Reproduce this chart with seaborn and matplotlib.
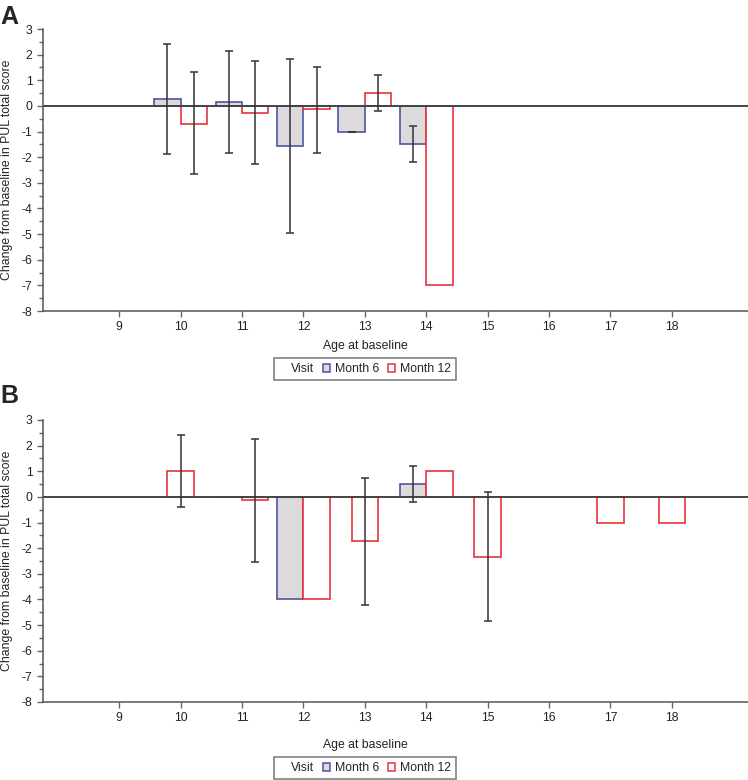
import numpy as np
import matplotlib.pyplot as plt
import seaborn as sns
from matplotlib.patches import Patch

# x axis ticks (age at baseline)
ages = [9, 10, 11, 12, 13, 14, 15, 16, 17, 18]

# Panel A
a_age_m6 = [10, 11, 12, 13, 14]
a_m6 = [0.27, 0.15, -1.58, -1.0, -1.5]
a_m6_lo = [-1.86, -1.83, -4.97, -1.0, -2.2]
a_m6_hi = [2.40, 2.14, 1.84, -1.0, -0.8]
a_age_m12 = [10, 11, 12, 13, 14]
a_m12 = [-0.7, -0.27, -0.14, 0.5, -7.0]
a_m12_lo = [-2.67, -2.27, -1.82, -0.2, np.nan]
a_m12_hi = [1.32, 1.74, 1.53, 1.22, np.nan]

# Panel B
b_age_m6 = [11, 12, 14]
b_m6 = [0.0, -4.0, 0.5]
b_m6_lo = [np.nan, np.nan, -0.21]
b_m6_hi = [np.nan, np.nan, 1.21]
b_age_m12 = [10, 11, 12, 13, 14, 15, 17, 18]
b_m12 = [1.0, -0.14, -4.0, -1.73, 1.0, -2.33, -1.0, -1.0]
b_m12_lo = [-0.40, -2.55, np.nan, -4.23, np.nan, -4.84, np.nan, np.nan]
b_m12_hi = [2.41, 2.27, np.nan, 0.75, np.nan, 0.18, np.nan, np.nan]

GRAY = "#dcdadb"
BLUE = "#4a55a3"
RED = "#e8323a"
DARK = "#333333"
FS = 8.8

sns.set_style("ticks")
plt.rcParams['font.family'] = ['Liberation Sans', 'DejaVu Sans']
plt.rcParams['axes.unicode_minus'] = False

W, H = 748, 780
fig = plt.figure(figsize=(W / 100, H / 100), dpi=100)


def add_ax(left, top, right, bottom):
    return fig.add_axes([left / W, 1 - bottom / H, (right - left) / W, (bottom - top) / H])


def panel(ax, age6, v6, lo6, hi6, age12, v12, lo12, hi12):
    w = 0.43
    both = set(age6) & set(age12)
    x6 = [a - w / 2 if a in both else a for a in age6]
    x12 = [a + w / 2 if a in both else a for a in age12]
    ax.bar(x6, v6, width=w, color=GRAY, edgecolor=BLUE, linewidth=1.2, zorder=2)
    ax.bar(x12, v12, width=w, color="white", edgecolor=RED, linewidth=1.2, zorder=2)
    ax.axhline(0, color="#444444", linewidth=1.4, zorder=3)
    for x, v, lo, hi in [(x6, v6, lo6, hi6), (x12, v12, lo12, hi12)]:
        x, v, lo, hi = map(np.asarray, (x, v, lo, hi))
        ok = ~np.isnan(lo)
        ax.errorbar(x[ok], v[ok], yerr=[v[ok] - lo[ok], hi[ok] - v[ok]], fmt="none",
                    ecolor=DARK, elinewidth=1.1, capsize=3, capthick=1.1, zorder=4)
    ax.set_xlim(7.76, 19.24)
    ax.set_ylim(-8, 3)
    ax.set_xticks(ages)
    ax.set_yticks(range(-8, 4))
    ax.set_yticks(np.arange(-7.5, 3, 1.0), minor=True)
    ax.tick_params(labelsize=FS, length=4, width=1, colors="#666666", labelcolor="#222222")
    ax.tick_params(axis="y", which="minor", length=3, width=1, colors="#666666")
    sns.despine(ax=ax)
    for s in ("left", "bottom"):
        ax.spines[s].set_color("#555555")
        ax.spines[s].set_linewidth(1.1)
    ax.set_xlabel("")
    ax.set_ylabel("")


def legend(ycenter):
    handles = [Patch(visible=False),
               Patch(facecolor=GRAY, edgecolor=BLUE, linewidth=1.1),
               Patch(facecolor="white", edgecolor=RED, linewidth=1.1)]
    leg = fig.legend(handles, ["Visit", "Month 6", "Month 12"], loc="center",
                     bbox_to_anchor=(365 / W, 1 - ycenter / H), ncol=3, fontsize=FS,
                     frameon=True, fancybox=False, edgecolor="#555555",
                     handlelength=0.6, handleheight=0.6, handletextpad=0.4,
                     columnspacing=0.7, borderpad=0.4, borderaxespad=0)
    leg.get_frame().set_linewidth(1.1)


axA = add_ax(43, 29, 748, 311)
panel(axA, a_age_m6, a_m6, a_m6_lo, a_m6_hi, a_age_m12, a_m12, a_m12_lo, a_m12_hi)
axB = add_ax(43, 420, 748, 702)
panel(axB, b_age_m6, b_m6, b_m6_lo, b_m6_hi, b_age_m12, b_m12, b_m12_lo, b_m12_hi)

for label, top, axc, xl, ly in [("A", 5, 170, 346, 369), ("B", 384, 561, 745, 768)]:
    fig.text(0, 1 - top / H, label, fontsize=18, fontweight="bold", va="top", ha="left")
    fig.text(7 / W, 1 - axc / H, "Change from baseline in PUL total score", rotation=90,
             fontsize=FS, ha="center", va="center", color="#222222")
    fig.text(365 / W, 1 - xl / H, "Age at baseline", fontsize=FS, ha="center", va="center",
             color="#222222")
    legend(ly)

fig.savefig("out.png", dpi=100)
